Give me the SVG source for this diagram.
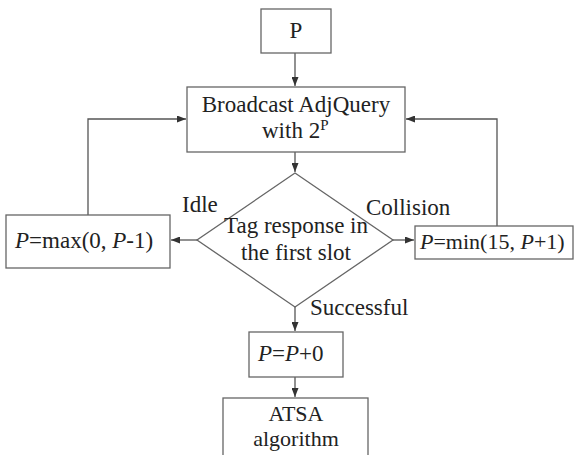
<svg xmlns="http://www.w3.org/2000/svg" width="574" height="455" viewBox="0 0 574 455">
<defs>
<marker id="ah" markerWidth="9" markerHeight="7" refX="9" refY="3.5" orient="auto" markerUnits="userSpaceOnUse">
<path d="M0,0 L9,3.5 L0,7 Z" fill="#333"/>
</marker>
<style>
.box{fill:#fff;stroke:#666;stroke-width:1.3}
.ln{fill:none;stroke:#555;stroke-width:1.3}
.t{font-family:"Liberation Serif","Times New Roman",serif;font-size:23px;fill:#222}
.s{font-size:22px}
.m{text-anchor:middle}
.i{font-style:italic}
</style>
</defs>
<rect width="574" height="455" fill="#fff"/>
<g id="connectors">
<path class="ln" d="M295,53 V86" marker-end="url(#ah)"/>
<path class="ln" d="M295,152 V172" marker-end="url(#ah)"/>
<path class="ln" d="M197,240 H171" marker-end="url(#ah)"/>
<path class="ln" d="M393,240 H414" marker-end="url(#ah)"/>
<path class="ln" d="M88,215 V119 H186" marker-end="url(#ah)"/>
<path class="ln" d="M497,226 V119 H406" marker-end="url(#ah)"/>
<path class="ln" d="M295,307 V331" marker-end="url(#ah)"/>
<path class="ln" d="M295,377 V397" marker-end="url(#ah)"/>
</g>
<g id="labels">
<text class="t" x="182" y="212">Idle</text>
<text class="t" x="366" y="215">Collision</text>
<text class="t" x="310" y="315">Successful</text>
</g>
<g id="nodeP">
<rect class="box" x="261" y="9" width="70" height="44"/>
<text class="t m" x="296" y="38">P</text>
</g>
<g id="broadcast">
<rect class="box" x="187" y="87" width="218" height="65"/>
<text class="t m" x="296" y="112">Broadcast AdjQuery</text>
<text class="t" x="262" y="138">with 2<tspan font-size="15" dy="-8">P</tspan></text>
</g>
<g id="decision">
<path class="box" d="M295,173 L393,240 L295,307 L197,240 Z"/>
<text class="t m" x="296" y="233">Tag response in</text>
<text class="t m" x="296" y="260">the first slot</text>
</g>
<g id="idleBox">
<rect class="box" x="6" y="215" width="164" height="53"/>
<text class="t" x="15" y="248"><tspan class="i">P</tspan>=max(0, <tspan class="i">P</tspan>-1)</text>
</g>
<g id="collisionBox">
<rect class="box" x="415" y="226" width="158" height="33"/>
<text class="t s" x="420" y="249"><tspan class="i">P</tspan>=min(15, <tspan class="i">P</tspan>+1)</text>
</g>
<g id="successBox">
<rect class="box" x="249" y="332" width="94" height="45"/>
<text class="t" x="258" y="361"><tspan class="i">P</tspan>=<tspan class="i">P</tspan>+0</text>
</g>
<g id="atsa">
<rect class="box" x="223" y="398" width="145" height="62"/>
<text class="t s m" x="296" y="421">ATSA</text>
<text class="t s m" x="296" y="446">algorithm</text>
</g>
</svg>
